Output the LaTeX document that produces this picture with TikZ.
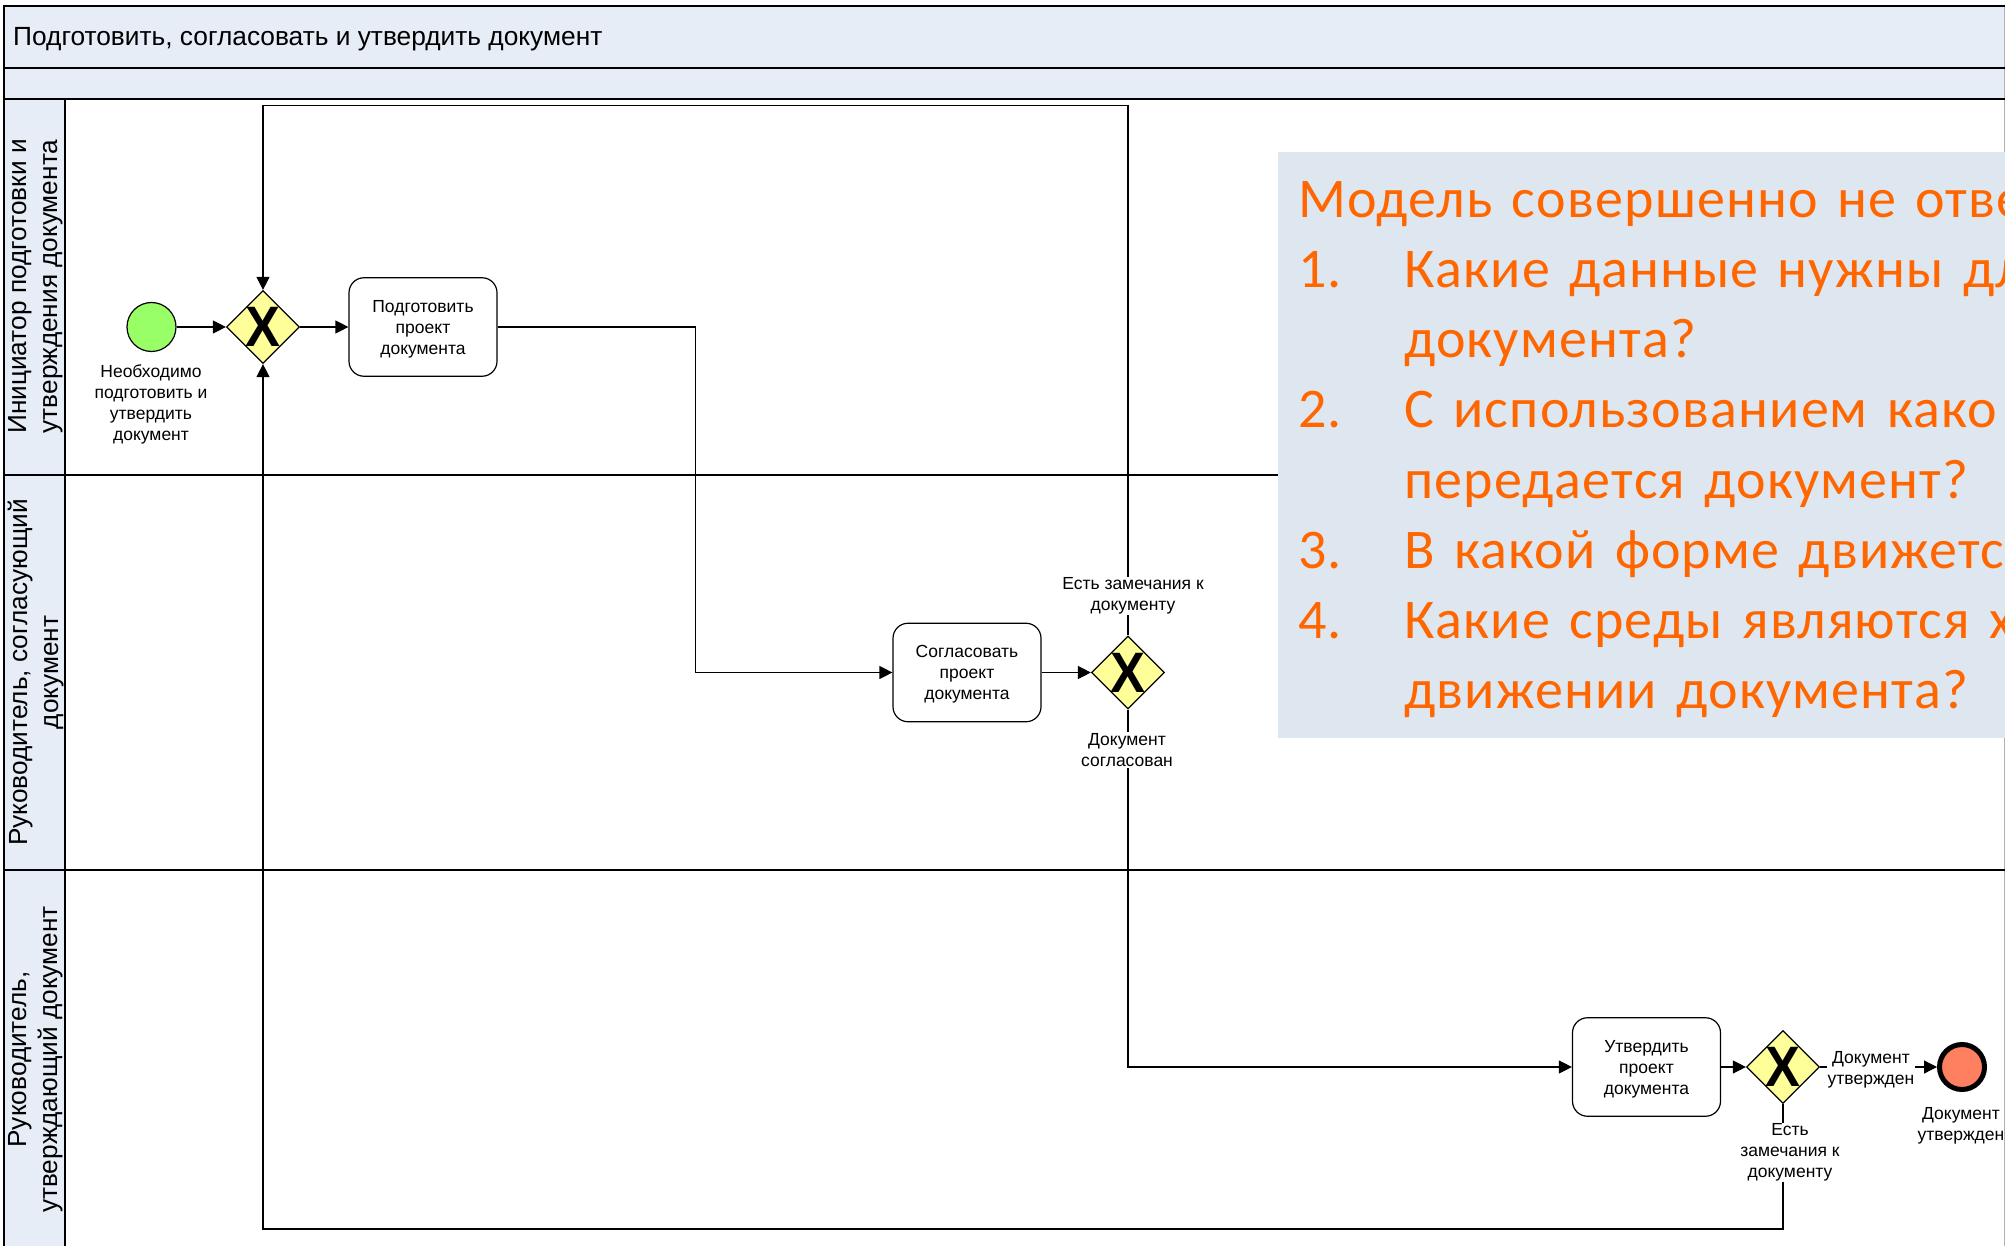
\documentclass[tikz,border=0pt]{standalone}
\usepackage{graphicx}
\usepackage{fontspec}
\setmainfont{Liberation Sans}
\newfontfamily\notefont[LetterSpace=2.1,WordSpace=1.4]{Carlito}
\usetikzlibrary{arrows.meta,shapes.geometric}
\definecolor{headblue}{HTML}{E6EDF7}
\definecolor{notebg}{HTML}{DEE6EF}
\definecolor{noteor}{HTML}{FF6600}
\definecolor{gwfill}{HTML}{FFFF99}
\definecolor{startg}{HTML}{99FF66}
\definecolor{endr}{HTML}{FF8060}
\newcommand{\tasklines}[3]{\mbox{}\\[-5pt]#1\\#2\\#3}
\newcommand{\gwmark}{\scalebox{0.92}[1]{X}}
\tikzset{
  x=1pt,y=-1pt,
  lanehead/.style={draw=black,line width=1.3pt,fill=headblue},
  laneline/.style={draw=black,line width=1.3pt},
  lanetext/.style={font=\fontsize{26.2}{31}\selectfont,align=center,rotate=90,inner sep=0pt,text=black},
  titletext/.style={font=\fontsize{26.3}{30}\selectfont,anchor=west,inner sep=0pt},
  taskbox/.style={draw=black,line width=1.2pt,rounded corners=15pt,fill=white,minimum width=148pt,minimum height=98.5pt,align=center,inner sep=0pt,font=\fontsize{17.5}{21}\selectfont},
  gw/.style={diamond,draw=black,line width=1.2pt,fill=gwfill,minimum width=73pt,minimum height=73pt,inner sep=-4pt,aspect=1,font=\fontsize{57}{57}\bfseries\selectfont},
  conn/.style={draw=black,line width=1.2pt,-{Triangle[length=13pt,width=13pt]}},
  lab/.style={font=\fontsize{17.5}{21}\selectfont,align=center,inner sep=1pt,fill=white},
  noteline/.style={font=\notefont\fontsize{56}{66}\selectfont,text=noteor,anchor=base west,inner sep=0pt},
}
\begin{document}
\begin{tikzpicture}
\useasboundingbox (0,0) rectangle (2005,1246);
\clip (0,0) rectangle (2005,1246);
\fill[white] (0,0) rectangle (2005,1246);
\draw[gray!60,line width=1pt] (2004.5,6) -- (2004.5,1246);
\fill[headblue] (4,6) rectangle (2004,99);
\draw[laneline] (2005,6) -- (4,6) -- (4,99) -- (2005,99);
\draw[laneline] (4,68) -- (2005,68);
\node[titletext] (title) at (13,39.5) {Подготовить, согласовать и утвердить документ};
\draw[lanehead] (4,99) rectangle (65,475);
\draw[lanehead] (4,475) rectangle (65,870);
\draw[lanehead] (4,870) rectangle (65,1260);
\draw[laneline] (65,475) -- (2005,475);
\draw[laneline] (65,870) -- (2005,870);
\node[lanetext] (l1) at (36,286.5) {Инициатор подготовки и\\утверждения документа};
\node[lanetext] (l2) at (36,672.5) {Руководитель, согласующий\\документ};
\node[lanetext] (l3) at (36,1059.5) {Руководитель,\\утверждающий документ};

\node[circle,draw=black,line width=1.2pt,fill=startg,minimum size=49pt,inner sep=0pt] (start) at (151.5,327) {};
\node[gw] (g1) at (263,327) {\gwmark};
\node[taskbox] (t1) at (423,327) {\tasklines{Подготовить}{проект}{документа}};
\node[taskbox] (t2) at (967,672.5) {\tasklines{Согласовать}{проект}{документа}};
\node[gw] (g2) at (1128,672.5) {\gwmark};
\node[taskbox] (t3) at (1646.5,1067) {\tasklines{Утвердить}{проект}{документа}};
\node[gw] (g3) at (1783,1067) {\gwmark};
\node[circle,draw=black,line width=5pt,fill=endr,minimum size=45pt,inner sep=0pt] (end) at (1962,1067) {};

\coordinate (topr) at (1128,105.5);
\coordinate (topl) at (263,105.5);
\coordinate (botr) at (1783,1229);
\coordinate (botl) at (263,1229);
\coordinate (c1) at (695.5,327);
\coordinate (c2) at (695.5,672.5);
\coordinate (c3) at (1128,1067);

\draw[conn] (start) -- (g1);
\draw[conn] (g1) -- (t1);
\draw[conn] (t1) -- (c1) -- (c2) -- (t2);
\draw[conn] (t2) -- (g2);
\draw[conn] (g2.north) -- (topr) -- (topl) -- (g1.north);
\draw[conn] (g2.south) -- (c3) -- (t3);
\draw[conn] (t3) -- (g3);
\draw[conn] (g3.east) -- (end);
\draw[conn] (g3.south) -- (botr) -- (botl) -- (g1.south);

\node[lab,fill=none] (lstart) at (151,404) {Необходимо\\подготовить и\\утвердить\\документ};
\node[lab] (lg2a) at (1133,596) {Есть замечания к\\документу};
\node[lab] (lg2b) at (1127,750) {Документ\\согласован};
\node[lab] (lg3a) at (1790,1152.5) {Есть\\замечания к\\документу};
\node[lab] (lg3b) at (1871,1069.5) {Документ\\утвержден};
\node[lab,fill=none] (lend) at (1961,1126) {Документ\\утвержден};

\fill[notebg] (1278,152) rectangle (2005,738);
\node[noteline] (n0) at (1298,217.5) {Модель совершенно не отве};
\node[noteline] (n1) at (1298,287.5) {1.};
\node[noteline] (n1a) at (1404,287.5) {Какие данные нужны дл};
\node[noteline] (n1b) at (1404,357.5) {документа?};
\node[noteline] (n2) at (1298,428) {2.};
\node[noteline] (n2a) at (1404,428) {С использованием како};
\node[noteline] (n2b) at (1404,498) {передается документ?};
\node[noteline] (n3) at (1298,568) {3.};
\node[noteline] (n3a) at (1404,568) {В какой форме движетс};
\node[noteline] (n4) at (1298,638.5) {4.};
\node[noteline] (n4a) at (1404,638.5) {Какие среды являются х};
\node[noteline] (n4b) at (1404,708.5) {движении документа?};
\end{tikzpicture}
\end{document}
